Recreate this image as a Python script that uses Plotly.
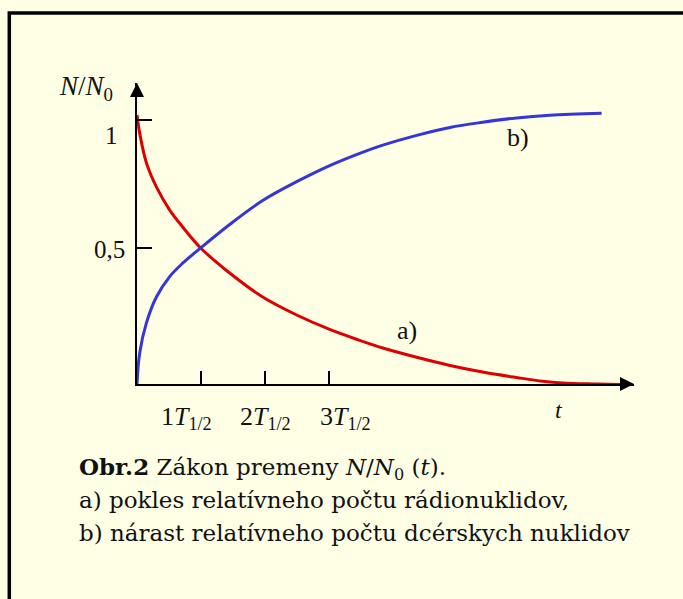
import plotly.graph_objects as go

# Time axis in units of the half-life T1/2, values as relative amount N/N0
t_a = [0, 0.042, 0.147, 0.303, 0.511, 0.714, 0.995, 1.448, 1.964, 2.495,
       3.011, 3.48, 3.84, 4.37, 4.89, 5.40, 5.93, 6.34, 6.65, 7.18, 7.74]
n_a = [0.987, 0.92, 0.811, 0.723, 0.638, 0.576, 0.499, 0.407, 0.319, 0.253,
       0.200, 0.160, 0.132, 0.098, 0.068, 0.044, 0.024, 0.010, 0.004, 0.0, -0.003]

t_b = [0, 0.042, 0.147, 0.303, 0.511, 0.714, 0.995, 1.448, 1.964, 2.495,
       3.011, 3.48, 3.84, 4.37, 4.89, 5.40, 5.93, 6.45, 7.26]
n_b = [0.0, 0.114, 0.224, 0.319, 0.394, 0.443, 0.499, 0.585, 0.673, 0.742,
       0.801, 0.846, 0.876, 0.912, 0.941, 0.960, 0.976, 0.986, 0.993]

x_ticks = [1, 2, 3]
x_tick_text = ["1<i>T</i><sub>1/2</sub>", "2<i>T</i><sub>1/2</sub>", "3<i>T</i><sub>1/2</sub>"]
y_ticks = [0.5, 0.968]
y_tick_text = ["0,5", "1"]

X_MAX = 7.766
Y_MAX = 1.104

BG = "#FFFFE6"
RED = "#DD0000"
BLUE = "#3535D8"
INK = "#111111"
SERIF = "Liberation Serif"
CAPTION_FONT = "DejaVu Serif"

# plot area in pixels
L, R, T, B = 137, 49, 83, 215
W, H = 683, 599
PW, PH = W - L - R, H - T - B


def paper(px, py):
    return dict(xref="paper", yref="paper", x=(px - L) / PW, y=(H - B - py) / PH)


fig = go.Figure()

fig.add_trace(go.Scatter(x=t_a, y=n_a, mode="lines",
                         line=dict(color=RED, width=3, shape="spline", smoothing=1.0),
                         hoverinfo="skip", showlegend=False))
fig.add_trace(go.Scatter(x=t_b, y=n_b, mode="lines",
                         line=dict(color=BLUE, width=3, shape="spline", smoothing=1.0),
                         hoverinfo="skip", showlegend=False))

# arrowheads at the ends of both axes
fig.add_trace(go.Scatter(x=[0, X_MAX], y=[Y_MAX, 0], mode="markers",
                         marker=dict(symbol=["arrow-up", "arrow-right"], size=14, color="black",
                                     line=dict(width=0)),
                         cliponaxis=False, hoverinfo="skip", showlegend=False))

axis_common = dict(showgrid=False, zeroline=False, showline=True, linecolor="black", linewidth=1.5,
                   ticks="inside", tickcolor="black", tickwidth=1.5, showticklabels=False,
                   fixedrange=True)

fig.update_xaxes(range=[0, X_MAX], tickvals=x_ticks, ticklen=13, **axis_common)
fig.update_yaxes(range=[0, Y_MAX], tickvals=y_ticks, ticklen=15, **axis_common)

ann = []
# x tick labels
for v, txt, dx in zip(x_ticks, x_tick_text, [-15, 1, 17]):
    ann.append(dict(x=v, y=0, xref="x", yref="y", text=txt, showarrow=False,
                    xanchor="center", yanchor="middle", xshift=dx, yshift=-34,
                    font=dict(family=SERIF, size=26, color=INK)))
# y tick labels
for v, txt, dx, dy in zip(y_ticks, y_tick_text, [-10, -17], [-2, -15]):
    ann.append(dict(x=0, y=v, xref="x", yref="y", text=txt, showarrow=False,
                    xanchor="right", yanchor="middle", xshift=dx, yshift=dy,
                    font=dict(family=SERIF, size=25, color=INK)))

# axis titles and curve labels
labels = [
    ("<i>N</i>/<i>N</i><sub>0</sub>", 86, 88, 27),
    ("<i>t</i>", 559, 410, 24),
    ("a)", 407, 330, 26),
    ("b)", 518, 137, 26),
]
for txt, px, py, size in labels:
    ann.append(dict(**paper(px, py), text=txt, showarrow=False, xanchor="center", yanchor="middle",
                    font=dict(family=SERIF, size=size, color=INK)))

# caption
caption = [
    "<b>Obr.2</b> Zákon premeny <i>N</i>/<i>N</i><sub>0</sub> (<i>t</i>).",
    "a) pokles relatívneho počtu rádionuklidov,",
    "b) nárast relatívneho počtu dcérskych nuklidov",
]
for line, cy in zip(caption, [468, 500, 533]):
    ann.append(dict(**paper(77, cy), text=line, showarrow=False, xanchor="left", yanchor="middle",
                    font=dict(family=CAPTION_FONT, size=23, color=INK)))

fig.update_layout(
    width=W, height=H, autosize=False,
    margin=dict(l=L, r=R, t=T, b=B, pad=0),
    paper_bgcolor=BG, plot_bgcolor=BG,
    annotations=ann,
    shapes=[dict(type="rect", xref="paper", yref="paper",
                 x0=(9.3 - L) / PW, x1=(W + 30 - L) / PW,
                 y0=(H - B - (H + 30)) / PH, y1=(H - B - 13) / PH,
                 line=dict(color="black", width=3.5), fillcolor="rgba(0,0,0,0)", layer="below")],
)

fig.write_html("out.html")
